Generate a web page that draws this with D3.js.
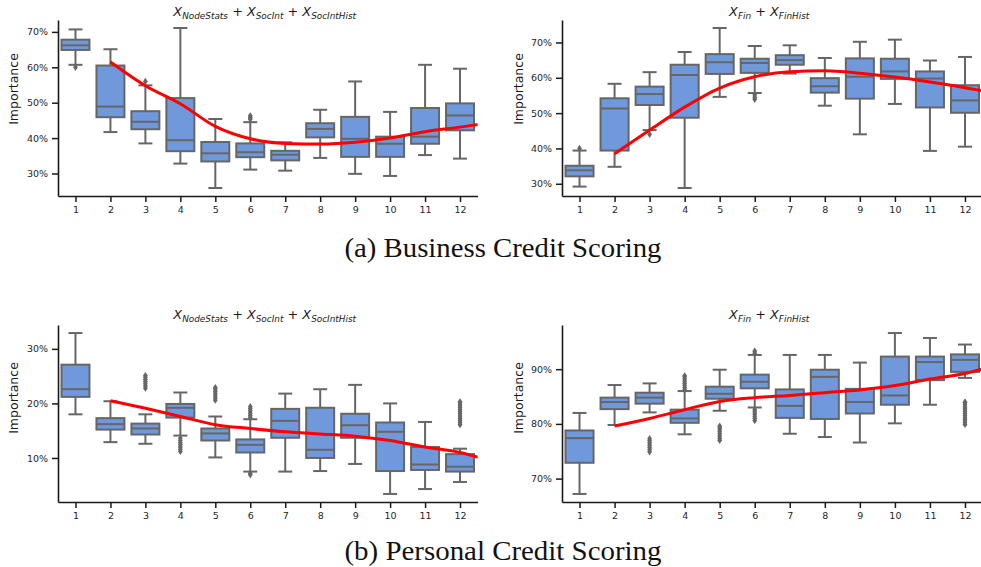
<!DOCTYPE html>
<html><head><meta charset="utf-8">
<script src="https://cdn.jsdelivr.net/npm/d3@7"></script>
<style>body{margin:0;background:#fff}svg{display:block}</style>
</head><body>
<svg id="chart" width="981" height="567"></svg>
<script>
const categories = [1,2,3,4,5,6,7,8,9,10,11,12];
const trendPositions = [2,3,4,5,6,7,8,9,10,11,12,13];

// (a) Business – NodeStats + SocInt + SocIntHist
const aLow  = [60.7,41.7,38.5,32.8,25.9,31.1,30.8,34.4,29.9,29.3,35.2,34.2];
const aQ1   = [64.9,45.9,42.5,36.3,33.4,34.6,33.7,40.2,34.7,34.7,38.4,42.2];
const aMed  = [66.2,48.9,44.6,39.4,35.7,36.0,35.3,42.6,39.8,38.4,40.4,46.4];
const aQ3   = [67.8,60.5,47.6,51.3,38.9,38.5,36.4,44.2,46.0,40.4,48.5,49.8];
const aHigh = [70.7,65.1,54.9,71.1,45.4,44.5,38.8,48.0,56.0,47.4,60.7,59.6];
const aOut  = [[60.0],[],[56.0],[],[],[45.3,45.8,46.3],[],[],[],[],[],[]];
const aTrend= [61.5,54.8,49.7,43.3,39.8,38.5,38.3,38.8,40.0,41.8,43.1,44.5];
const aTicks= [30,40,50,60,70];

// (a) Business – Fin + FinHist
const bLow  = [29.2,34.8,45.2,28.8,54.6,55.7,61.2,52.1,44.0,52.6,39.3,40.5];
const bQ1   = [32.1,39.4,52.3,48.7,61.1,61.4,63.7,55.8,54.1,59.7,51.6,50.1];
const bMed  = [33.8,51.3,55.4,60.8,64.4,64.2,65.0,57.6,60.3,61.8,59.8,53.6];
const bQ3   = [35.1,54.2,57.5,63.7,66.7,65.4,66.4,59.9,65.5,65.4,61.8,57.9];
const bHigh = [39.4,58.3,61.6,67.3,74.1,69.0,69.2,65.6,70.2,70.8,64.9,65.9];
const bOut  = [[40.0],[],[44.0],[],[],[55.2,54.5,53.9],[],[],[],[],[],[]];
const bTrend= [38.5,45.2,51.7,57.1,60.3,61.7,62.0,61.3,60.2,58.8,57.2,55.5];
const bTicks= [30,40,50,60,70];

// (b) Personal – NodeStats + SocInt + SocIntHist
const cLow  = [18.0,12.9,12.6,14.1,10.1,7.5,7.5,7.6,8.9,3.4,4.3,5.6];
const cQ1   = [21.2,15.2,14.3,17.4,13.2,11.0,13.7,10.0,13.7,7.6,7.8,7.5];
const cMed  = [22.6,16.2,15.4,19.2,14.5,12.4,16.8,11.5,16.0,14.8,8.8,8.4];
const cQ3   = [27.1,17.3,16.3,19.9,15.4,13.4,19.0,19.2,18.1,16.5,12.0,10.7];
const cHigh = [32.9,20.4,18.0,22.0,17.6,17.1,21.8,22.6,23.4,20.0,16.6,11.7];
const cOut  = [[],[],[22.8,23.2,23.6,24.0,24.4,24.8,25.1],[11.2,11.6,12.0,12.4,12.8,13.2,13.6],
               [20.6,21.0,21.4,21.8,22.2,22.6,22.9],[17.4,17.8,18.2,18.6,19.0,19.4,7.2,6.9],
               [],[],[],[],[],[16.1,16.5,16.9,17.3,17.7,18.1,18.5,18.9,19.3,19.7,20.1,20.3]];
const cTrend= [20.5,19.1,17.6,16.1,15.4,14.8,14.4,14.0,13.2,12.0,11.0,9.2];
const cTicks= [10,20,30];

// (b) Personal – Fin + FinHist
const dLow  = [67.2,79.8,82.1,78.1,82.4,83.0,78.2,77.6,76.6,80.1,83.5,88.4];
const dQ1   = [72.9,82.7,83.7,80.2,84.6,86.5,81.1,80.9,81.9,83.5,88.0,89.5];
const dMed  = [77.4,84.0,84.8,81.0,85.5,87.7,83.3,88.6,84.0,85.2,91.3,91.7];
const dQ3   = [78.8,84.8,85.7,82.6,86.8,89.0,86.3,89.9,86.4,92.3,92.3,92.7];
const dHigh = [82.0,87.1,87.4,86.0,89.9,92.6,92.6,92.6,91.2,96.6,95.7,94.5];
const dOut  = [[],[],[74.9,75.3,75.7,76.1,76.5,76.9,77.3],[86.2,86.6,87.0,87.4,87.8,88.2,88.6,88.8],
               [77.0,77.4,77.8,78.2,78.6,79.0,79.4,79.6],[92.9,93.3,80.6,81.0,81.4,81.8,82.2,82.6],
               [],[],[],[],[],[79.9,80.3,80.7,81.1,81.5,81.9,82.3,82.7,83.1,83.5,83.9,84.0]];
const dTrend= [79.6,81.0,82.6,84.1,84.8,85.2,85.7,86.2,87.0,88.2,89.2,91.0];
const dTicks= [70,80,90];

const titleNode = [["X","NodeStats"],["X","SocInt"],["X","SocIntHist"]];
const titleFin  = [["X","Fin"],["X","FinHist"]];
const captions = ["(a) Business Credit Scoring","(b) Personal Credit Scoring"];
const yLabel = "Importance";

const svg = d3.select("#chart");
const BOX_FILL = "#7099dc", GRAY = "#666666";

const panels = [
  {low:aLow,q1:aQ1,med:aMed,q3:aQ3,high:aHigh,out:aOut,trend:aTrend,ticks:aTicks,title:titleNode,x0:58,x1:477.5,top:20,bot:196,labX:13,labY:89,titleY:16},
  {low:bLow,q1:bQ1,med:bMed,q3:bQ3,high:bHigh,out:bOut,trend:bTrend,ticks:bTicks,title:titleFin,x0:562,x1:982.5,top:20,bot:196,labX:518,labY:89,titleY:16},
  {low:cLow,q1:cQ1,med:cMed,q3:cQ3,high:cHigh,out:cOut,trend:cTrend,ticks:cTicks,title:titleNode,x0:58,x1:477.5,top:325,bot:502,labX:13,labY:398,titleY:319},
  {low:dLow,q1:dQ1,med:dMed,q3:dQ3,high:dHigh,out:dOut,trend:dTrend,ticks:dTicks,title:titleFin,x0:562,x1:982.5,top:325,bot:502,labX:518,labY:398,titleY:319}
];

panels.forEach((p,pi)=>{
  const allVals = p.low.concat(p.high, p.out.flat());
  const [mn,mx] = d3.extent(allVals);
  const pad = (mx-mn)*0.05;
  const y = d3.scaleLinear().domain([mn-pad, mx+pad]).range([p.bot, p.top]);
  const x = d3.scaleLinear().domain([0.5,12.5]).range([p.x0, p.x1]);
  const step = x(2)-x(1);
  const bw = step*0.8;
  const g = svg.append("g");

  const clipId = "clip"+pi;
  svg.append("clipPath").attr("id",clipId).append("rect")
    .attr("x",p.x0).attr("y",p.top).attr("width",p.x1-p.x0).attr("height",p.bot-p.top);

  // boxes
  categories.forEach((c,i)=>{
    const cx = x(c);
    const bg = g.append("g").attr("stroke",GRAY).attr("stroke-width",2);
    bg.append("line").attr("x1",cx).attr("x2",cx).attr("y1",y(p.q3[i])).attr("y2",y(p.high[i]));
    bg.append("line").attr("x1",cx).attr("x2",cx).attr("y1",y(p.q1[i])).attr("y2",y(p.low[i]));
    bg.append("line").attr("x1",cx-bw/4).attr("x2",cx+bw/4).attr("y1",y(p.high[i])).attr("y2",y(p.high[i]));
    bg.append("line").attr("x1",cx-bw/4).attr("x2",cx+bw/4).attr("y1",y(p.low[i])).attr("y2",y(p.low[i]));
    bg.append("rect").attr("x",cx-bw/2).attr("width",bw)
      .attr("y",y(p.q3[i])).attr("height",y(p.q1[i])-y(p.q3[i]))
      .attr("fill",BOX_FILL);
    bg.append("line").attr("x1",cx-bw/2).attr("x2",cx+bw/2).attr("y1",y(p.med[i])).attr("y2",y(p.med[i]));
    p.out[i].forEach(v=>{
      g.append("path").attr("d","M0,-3.6L2.4,0L0,3.6L-2.4,0Z")
        .attr("transform",`translate(${cx},${y(v)})`).attr("fill",GRAY);
    });
  });

  // trend line
  const line = d3.line().x((d,i)=>x(trendPositions[i])).y(d=>y(d)).curve(d3.curveMonotoneX);
  svg.append("path").datum(p.trend).attr("d",line).attr("fill","none")
    .attr("stroke","#ff0000").attr("stroke-width",3).attr("clip-path",`url(#${clipId})`);

  // axes
  const yAxis = d3.axisLeft(y).tickValues(p.ticks).tickFormat(d=>d+"%").tickSize(6).tickPadding(4).tickSizeOuter(0);
  const ya = svg.append("g").attr("transform",`translate(${p.x0},0)`).call(yAxis);
  const xAxis = d3.axisBottom(x).tickValues(categories).tickFormat(d3.format("d")).tickSize(6).tickPadding(4).tickSizeOuter(0);
  const xa = svg.append("g").attr("transform",`translate(0,${p.bot})`).call(xAxis);
  [ya,xa].forEach(a=>{
    a.selectAll(".domain").attr("stroke","#1a1a1a").attr("stroke-width",1.6);
    a.selectAll(".tick line").attr("stroke","#1a1a1a").attr("stroke-width",1.5);
    a.selectAll("text").attr("font-family","DejaVu Sans").attr("font-size",9.5).attr("fill","#262626");
  });

  // y label
  svg.append("text").attr("transform",`translate(${p.labX},${p.labY}) rotate(-90)`)
    .attr("text-anchor","middle").attr("dominant-baseline","central")
    .attr("font-family","DejaVu Sans").attr("font-size",12.5).attr("fill","#1a1a1a").text(yLabel);

  // title
  const t = svg.append("text").attr("x",(p.x0+Math.min(p.x1,983))/2 - 3).attr("y",p.titleY)
    .attr("text-anchor","middle").attr("font-family","DejaVu Sans").attr("fill","#1a1a1a");
  p.title.forEach((part,k)=>{
    if(k>0) t.append("tspan").attr("font-style","normal").attr("font-size",12.8).text(" + ");
    t.append("tspan").attr("font-style","italic").attr("font-size",12.8).text(part[0]);
    t.append("tspan").attr("font-style","italic").attr("font-size",8.9).attr("dy",2.8).text(part[1]);
    t.append("tspan").attr("font-size",1).attr("dy",-2.8).text("\u200a");
  });
});

// captions
[257,560].forEach((yy,i)=>{
  svg.append("text").attr("x",503).attr("y",yy).attr("text-anchor","middle")
    .attr("font-family","Liberation Serif").attr("font-size",27)
    .attr("textLength",317).attr("lengthAdjust","spacingAndGlyphs")
    .attr("fill","#111").text(captions[i]);
});
</script>
</body></html>
